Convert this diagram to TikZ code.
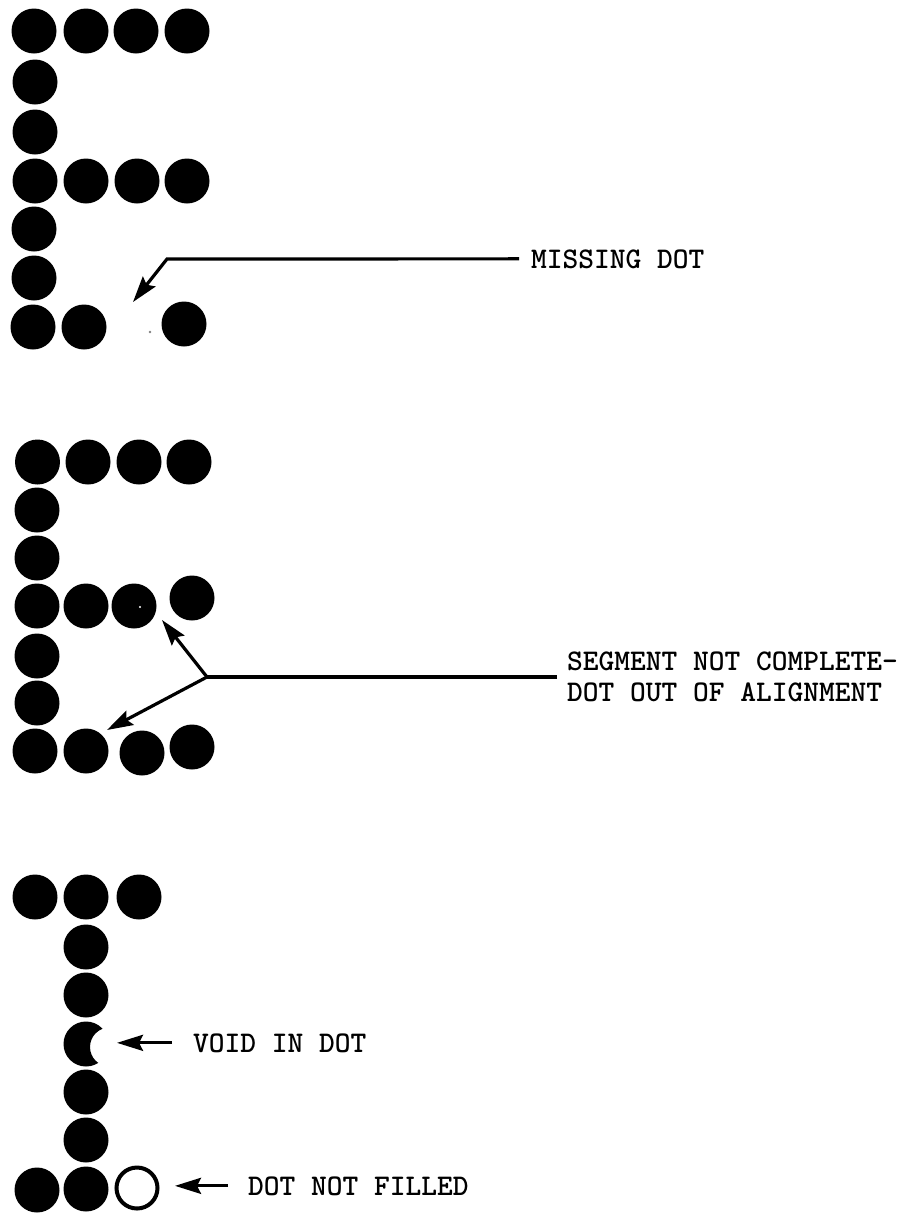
\documentclass[tikz,border=0pt]{standalone}
\usetikzlibrary{arrows.meta}
\begin{document}
\begin{tikzpicture}[x=1pt,y=-1pt,
  dot/.style={circle,fill=black,inner sep=0pt,minimum size=45pt},
  hollow/.style={circle,draw=black,line width=4pt,inner sep=0pt,minimum size=41pt},
  arr/.style={line width=3.2pt,-{Stealth[length=26pt,width=16pt,inset=4pt]}},
  lead/.style={line width=3.2pt},
  lbl/.style={font=\fontsize{30}{31}\selectfont\ttfamily\bfseries,inner sep=0pt,text=black}]
\useasboundingbox (0,0) rectangle (902,1213);

% ---- first E (missing dot)
\foreach \n/\x/\y in {a/34/31, b/86/31, c/136/31, d/187/31,
  e/35/82, f/35/132, g/35/181, h/86/181, i/137/181, j/187/181,
  k/34/229, l/34/278, m/33/327, n/84/327, o/184/324}
  \node[dot] (A\n) at (\x,\y) {};
\fill[gray] (150,332) circle (1.3pt);

\node[lbl,anchor=base west] (miss) at (531,268) {MISSING DOT};
\coordinate (missbend) at (167,259);
\coordinate (misstip) at (133,302);
\draw[arr,shorten <=12pt] (miss.west) -- (missbend) -- (misstip);

% ---- second E (segment not complete / alignment)
\foreach \n/\x/\y in {a/37.5/462, b/88/462, c/139/462, d/189/462,
  e/37/510, f/37/558, g/37/606, h/86/606, i/134/606, j/192/598,
  k/37/656, l/37/703, m/35/751, n/86/751, o/142/753, p/192/747}
  \node[dot] (B\n) at (\x,\y) {};
\fill[white] (140,607) circle (1.2pt);

\node[lbl,anchor=west,align=left] (seg) at (567,677) {SEGMENT NOT COMPLETE-\\DOT OUT OF ALIGNMENT};
\coordinate (junc) at (207,677);
\coordinate (segtipA) at (162,620);
\coordinate (segtipB) at (107,730);
\draw[lead,shorten <=10pt] (seg.west) -- (junc);
\draw[arr] (junc) -- (segtipA);
\draw[arr] (junc) -- (segtipB);

% ---- T (void in dot / dot not filled)
\foreach \n/\x/\y in {a/35/897, b/86/897, c/139/897,
  d/86/947, e/86/995, g/86/1092, h/86/1140, i/86/1189, j/37/1190}
  \node[dot] (C\n) at (\x,\y) {};
\begin{scope}[even odd rule]
  \clip (40,1000) rectangle (140,1090) (109.5,1047) circle (19.5pt);
  \fill (86,1044) circle (22.5pt);
\end{scope}
\coordinate (Cf) at (86,1044);
\node[hollow] (Ck) at (137,1188) {};

\node[lbl,anchor=base west] (void) at (193,1052) {VOID IN DOT};
\coordinate (voidtip) at (117,1045);
\draw[arr,shorten <=21pt] (void.west) -- (void.west -| voidtip);

\node[lbl,anchor=base west] (unf) at (248,1195) {DOT NOT FILLED};
\coordinate (unftip) at (175,1188);
\draw[arr,shorten <=20pt] (unf.west) -- (unf.west -| unftip);
\end{tikzpicture}
\end{document}
